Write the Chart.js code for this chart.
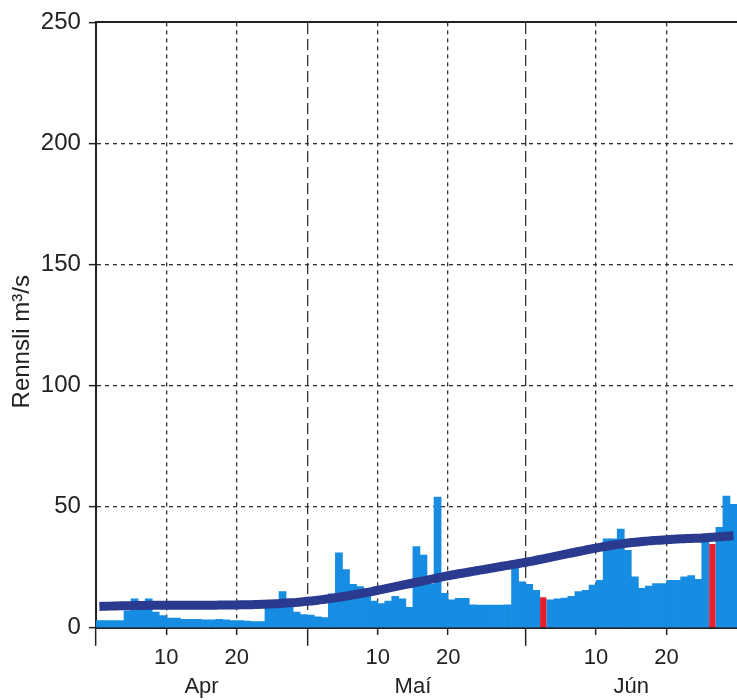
<!DOCTYPE html>
<html>
<head>
<meta charset="utf-8">
<script src="https://cdn.jsdelivr.net/npm/chart.js@4.4.1/dist/chart.umd.min.js"></script>
<style>
  html, body { margin: 0; padding: 0; background: #fff; }
  #wrap { width: 737px; height: 700px; }
</style>
</head>
<body>
<div id="wrap"><canvas id="myChart"></canvas></div>
<script>
const months = ["Apr", "Maí", "Jún"];
const monthDays = [30, 31, 30];
const dayTicks = [10, 20];
const yTicks = [0, 50, 100, 150, 200, 250];

// dagleg rennsli, m3/s (rauðu dagarnir sér)
const flow = [
  // apríl
  3, 3, 3, 3, 7, 12, 10.5, 12, 6.5, 5, 4, 4, 3.5, 3.5, 3.5, 3.3, 3.3, 3.5, 3.3, 3,
  3, 2.8, 2.6, 2.6, 8, 8, 15, 8.5, 6.5, 5.5,
  // maí
  5.3, 4.5, 4.2, 14, 31, 24, 18, 17, 13, 11, 10, 11, 13, 12, 8.5, 33.5, 30, 18, 54, 14.2,
  11.5, 12.2, 12.2, 9.5, 9.4, 9.4, 9.4, 9.4, 9.5, 25, 19,
  // júní
  18, 15.5, null, 11.6, 12, 12.3, 13, 15, 15.5, 17.6, 19.6, 36.7, 36.7, 40.8, 32, 21, 16.3, 17.2, 18.3, 18.3,
  19.6, 19.6, 21, 21.6, 20, 38.7, null, 41.5, 54.4, 51
];
const flowRed = [
  null, null, null, null, null, null, null, null, null, null, null, null, null, null, null, null, null, null, null, null,
  null, null, null, null, null, null, null, null, null, null,
  null, null, null, null, null, null, null, null, null, null, null, null, null, null, null, null, null, null, null, null,
  null, null, null, null, null, null, null, null, null, null, null,
  null, null, 12.6, null, null, null, null, null, null, null, null, null, null, null, null, null, null, null, null, null,
  null, null, null, null, null, null, 34.6, null, null, null
];
// meðalrennsli (ferill)
const meanFlow = [
  8.8, 8.9, 9.0, 9.1, 9.1, 9.2, 9.2, 9.3, 9.3, 9.3, 9.3, 9.3, 9.3, 9.3, 9.3, 9.3, 9.3, 9.4, 9.4, 9.4,
  9.5, 9.5, 9.6, 9.7, 9.8, 9.9, 10.1, 10.3, 10.5, 10.8,
  11.1, 11.4, 11.8, 12.2, 12.6, 13.1, 13.6, 14.1, 14.6, 15.2, 15.8, 16.4, 17.0, 17.6, 18.2, 18.8, 19.4, 20.0, 20.6, 21.2,
  21.8, 22.3, 22.8, 23.3, 23.8, 24.3, 24.8, 25.3, 25.8, 26.3, 26.8,
  27.3, 27.9, 28.5, 29.1, 29.7, 30.3, 30.9, 31.5, 32.1, 32.7, 33.2, 33.7, 34.2, 34.6, 35.0, 35.3, 35.6, 35.9, 36.1, 36.3,
  36.5, 36.7, 36.8, 36.9, 37.0, 37.2, 37.4, 37.6, 37.8, 38.0
];

const labels = [];
const dom = [];
const monthOf = [];
months.forEach((m, mi) => {
  for (let d = 1; d <= monthDays[mi]; d++) {
    labels.push(d + ". " + m);
    dom.push(d);
    monthOf.push(mi);
  }
});

const ink = "#222";
const gridInk = "#333";
const none = "rgba(0,0,0,0)";
const halfDay = 643 / labels.length / 2;

Chart.defaults.font.family = '"Liberation Sans", Arial, sans-serif';
Chart.defaults.color = ink;

new Chart(document.getElementById("myChart"), {
  data: {
    labels: labels,
    datasets: [
      {
        type: "line",
        data: meanFlow,
        borderColor: "#2a3a8e",
        borderWidth: 9,
        pointRadius: 0,
        tension: 0.4,
        order: 0
      },
      {
        type: "bar",
        data: flowRed,
        backgroundColor: "#e5202e",
        barPercentage: 0.9,
        categoryPercentage: 1,
        grouped: false,
        order: 1
      },
      {
        type: "bar",
        data: flow,
        backgroundColor: "#168ce2",
        barPercentage: 1,
        categoryPercentage: 1,
        grouped: false,
        order: 2
      }
    ]
  },
  options: {
    responsive: true,
    maintainAspectRatio: false,
    animation: false,
    layout: { padding: { left: 0, top: 1, right: 0, bottom: 1 } },
    plugins: { legend: { display: false }, tooltip: { enabled: false } },
    scales: {
      x: {
        type: "category",
        position: "bottom",
        offset: true,
        grid: {
          offset: true,
          lineWidth: 1.3,
          color: (ctx) => (dom[ctx.index] === 11 || dom[ctx.index] === 21) ? gridInk : none,
          tickColor: (ctx) => [1, 11, 21].includes(dom[ctx.index]) ? ink : none,
          tickBorderDash: (ctx) => dom[ctx.index] === 1 ? [] : [6, 40],
          tickLength: 18,
          tickWidth: 1.5
        },
        border: { display: true, color: ink, width: 2, dash: [4, 4] },
        ticks: {
          autoSkip: false,
          maxRotation: 0,
          padding: -2,
          labelOffset: halfDay,
          font: { size: 22, lineHeight: 1.3 },
          callback: (value, index) => {
            const d = dom[index];
            if (dayTicks.includes(d)) return String(d);
            if (d === 15) return ["", months[monthOf[index]]];
            return "";
          }
        }
      },
      x2: {
        type: "category",
        position: "top",
        offset: true,
        grid: {
          offset: true,
          lineWidth: 1.3,
          drawTicks: false,
          color: (ctx) => (ctx.index > 0 && dom[ctx.index] === 1) ? gridInk : none
        },
        border: { display: true, color: ink, width: 2, dash: [11, 5] },
        ticks: { display: false }
      },
      y: {
        min: 0,
        max: 250,
        afterBuildTicks: (scale) => { scale.ticks = yTicks.map(v => ({ value: v })); },
        grid: {
          lineWidth: 1.3,
          color: (ctx) => (ctx.tick && (ctx.tick.value === 0 || ctx.tick.value === 250)) ? none : gridInk,
          tickColor: ink,
          tickLength: 7,
          tickWidth: 1.5
        },
        border: { display: true, color: ink, width: 2, dash: [4, 4] },
        ticks: { padding: 8, font: { size: 24 } },
        title: {
          display: true,
          text: "Rennsli m³/s     ",
          font: { size: 24 },
          padding: { top: 8, bottom: -4 }
        }
      }
    }
  }
});
</script>
</body>
</html>
